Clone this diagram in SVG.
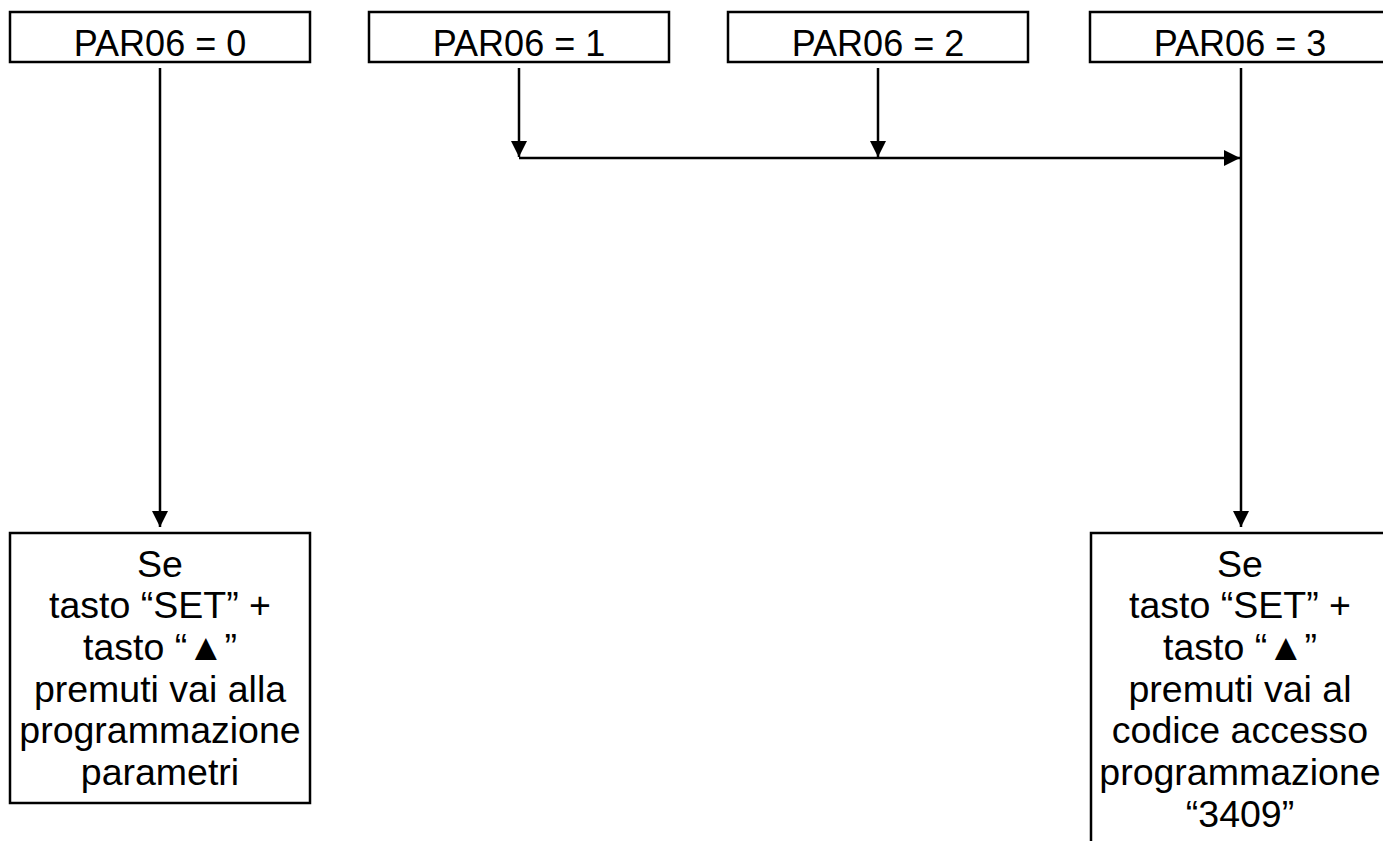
<svg xmlns="http://www.w3.org/2000/svg" width="1383" height="841" viewBox="0 0 1383 841">
<style>
.box{fill:#fff;stroke:#000;stroke-width:2.5}
.t{font-family:"Liberation Sans",Arial,sans-serif;font-size:36px;fill:#000;text-anchor:middle}
.b{font-size:37.5px}
.c{stroke:#000;stroke-width:2.5;fill:none}
</style>
<defs>
<marker id="ah" markerUnits="userSpaceOnUse" markerWidth="16" markerHeight="16" viewBox="0 0 16 16" refX="16" refY="8" orient="auto">
<path d="M0,0 L16,8 L0,16 Z" fill="#000"/>
</marker>
</defs>
<rect width="1383" height="841" fill="#fff"/>
<g id="connectors">
<line class="c" x1="160" y1="68" x2="160" y2="527" marker-end="url(#ah)"/>
<line class="c" x1="519" y1="68" x2="519" y2="157" marker-end="url(#ah)"/>
<line class="c" x1="878" y1="68" x2="878" y2="157" marker-end="url(#ah)"/>
<line class="c" x1="519" y1="158" x2="1240" y2="158" marker-end="url(#ah)"/>
<line class="c" x1="1241" y1="68" x2="1241" y2="527" marker-end="url(#ah)"/>
</g>
<g id="par0">
<rect class="box" x="10" y="12" width="300" height="50"/>
<text class="t" x="160" y="56">PAR06 = 0</text>
</g>
<g id="par1">
<rect class="box" x="369" y="12" width="300" height="50"/>
<text class="t" x="519" y="56">PAR06 = 1</text>
</g>
<g id="par2">
<rect class="box" x="728" y="12" width="300" height="50"/>
<text class="t" x="878" y="56">PAR06 = 2</text>
</g>
<g id="par3">
<rect class="box" x="1090" y="12" width="300" height="50"/>
<text class="t" x="1240" y="56">PAR06 = 3</text>
</g>
<g id="res0">
<rect class="box" x="10" y="533" width="300" height="270"/>
<text class="t b" x="160" y="577">Se</text>
<text class="t b" x="160" y="618">tasto “SET” +</text>
<text class="t b" x="160" y="660">tasto “▲”</text>
<text class="t b" x="160" y="702">premuti vai alla</text>
<text class="t b" x="160" y="743">programmazione</text>
<text class="t b" x="160" y="785">parametri</text>
</g>
<g id="res3">
<rect class="box" x="1091" y="533" width="300" height="340"/>
<text class="t b" x="1240" y="577">Se</text>
<text class="t b" x="1240" y="618">tasto “SET” +</text>
<text class="t b" x="1240" y="660">tasto “▲”</text>
<text class="t b" x="1240" y="702">premuti vai al</text>
<text class="t b" x="1240" y="743">codice accesso</text>
<text class="t b" x="1240" y="785">programmazione</text>
<text class="t b" x="1240" y="827">“3409”</text>
</g>
</svg>
